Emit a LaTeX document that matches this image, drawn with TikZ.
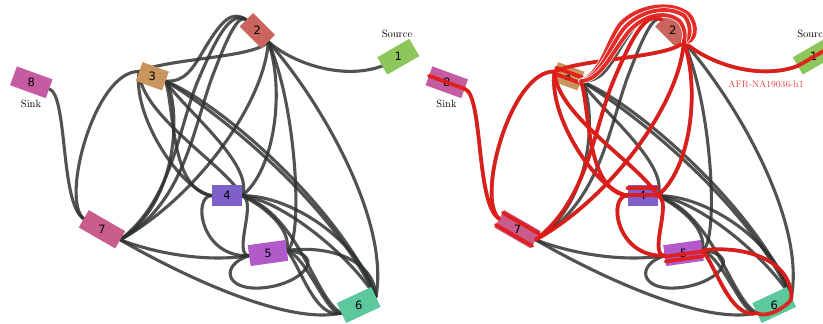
\documentclass[tikz,border=0pt]{standalone}
\usepackage{fontspec}
\newfontfamily\numfont{DejaVu Sans}
\usetikzlibrary{calc}
\pgfdeclarelayer{edges}
\pgfdeclarelayer{paths}
\pgfsetlayers{edges,main,paths}

\definecolor{edgegray}{HTML}{2E322E}
\definecolor{hapred}{HTML}{E21C18}
\definecolor{labred}{HTML}{E53E3E}
\definecolor{nc1}{HTML}{8DC65B}
\definecolor{nc2}{HTML}{C9655E}
\definecolor{nc3}{HTML}{C9955C}
\definecolor{nc4}{HTML}{7F5FCA}
\definecolor{nc5}{HTML}{B05BC9}
\definecolor{nc6}{HTML}{5CC99C}
\definecolor{nc7}{HTML}{C95C8B}
\definecolor{nc8}{HTML}{C55BA0}

\tikzset{
  seg/.style={rectangle, inner sep=0pt, outer sep=0pt, draw=none},
  num/.style={font=\numfont\fontsize{11.5}{12}\selectfont, inner sep=0pt},
  tag/.style={font=\fontsize{10.5}{12}\selectfont, inner sep=0pt},
  haplabel/.style={font=\fontsize{9.3}{11}\selectfont, text=labred, inner sep=0pt},
  gedge/.style={draw=edgegray, line width=3.1pt, opacity=.84, line cap=round},
  rpath/.style={draw=hapred, line width=3.8pt, opacity=.93, line cap=round},
  wgap/.style={draw=white, line width=5.2pt, line cap=round},
}

% one drawing of the variation graph: segments, their numbers, and the links
\newcommand\hgraph{%
  \node[seg, fill=nc1, minimum width=37pt, minimum height=20pt, rotate=30]  (n1) at (398.3,56.7) {};
  \node[seg, fill=nc2, minimum width=31pt, minimum height=19pt, rotate=-45] (n2) at (257.3,30.7) {};
  \node[seg, fill=nc3, minimum width=28pt, minimum height=20pt, rotate=-20] (n3) at (152.3,76.3) {};
  \node[seg, fill=nc4, minimum width=30pt, minimum height=21pt]             (n4) at (227,195.7) {};
  \node[seg, fill=nc5, minimum width=38pt, minimum height=21pt, rotate=8]   (n5) at (268,253) {};
  \node[seg, fill=nc6, minimum width=38pt, minimum height=22pt, rotate=25]  (n6) at (358.7,305) {};
  \node[seg, fill=nc7, minimum width=42pt, minimum height=20pt, rotate=-30] (n7) at (102,229.3) {};
  \node[seg, fill=nc8, minimum width=38pt, minimum height=20pt, rotate=-20] (n8) at (31.3,82.3) {};
  \foreach \k in {1,...,8}{\node[num] (l\k) at (n\k.center) {\k};}
  \node[tag] (src) at (397,33.5) {Source};
  \node[tag] (snk) at (31,104) {Sink};
  \begin{pgfonlayer}{edges}
    \draw[gedge] (n8.east) .. controls (68,95) and (60,205) .. (n7.west);
    \draw[gedge] (n3.west) .. controls (95,70) and (60,200) .. (n7.west);
    \draw[gedge] (n2.east) .. controls (255,58) and (170,58) .. (n3.west);
    \draw[gedge] (n2.west) .. controls (232,10) and (222,20) .. (205,48)
                           .. controls (192,70) and (185,82) .. (n3.east);
    \draw[gedge] (n2.east) .. controls (295,65) and (345,80) .. (n1.west);
    \draw[gedge] (n2.west) .. controls (232,12) and (220,28) .. (197,83)
                           .. controls (178,130) and (172,200) .. (n7.east);
    \draw[gedge] (n2.west) .. controls (238,14) and (228,35) .. (211,80)
                           .. controls (192,135) and (182,205) .. (n7.east);
    \draw[gedge] (n3.east) .. controls (180,100) and (182,200) .. (n7.east);
    \draw[gedge] (n2.east) .. controls (265,100) and (200,195) .. (n7.east);
    \draw[gedge] (n2.east) .. controls (285,90) and (275,170) .. (n4.east);
    \draw[gedge] (n2.east) .. controls (298,110) and (303,245) .. (n5.east);
    \draw[gedge] (n2.east) .. controls (320,100) and (390,220) .. (n6.east);
    \draw[gedge] (n3.west) .. controls (132,115) and (180,190) .. (n4.west);
    \draw[gedge] (n3.east) .. controls (175,110) and (170,190) .. (n4.west);
    \draw[gedge] (n3.east) .. controls (185,110) and (255,165) .. (n4.east);
    \draw[gedge] (n3.east) .. controls (215,110) and (330,200) .. (n6.east);
    \draw[gedge] (n3.east) .. controls (225,105) and (345,215) .. (n6.east);
    \draw[gedge] (n3.west) .. controls (140,115) and (225,165) .. (n4.east);
    \draw[gedge] (n4.west) .. controls (192,195) and (200,258) .. (n5.west);
    \draw[gedge] (n4.east) .. controls (258,200) and (232,255) .. (n5.west);
    \draw[gedge] (n4.east) .. controls (290,195) and (360,240) .. (n6.east);
    \draw[gedge] (n4.east) .. controls (280,200) and (345,250) .. (n6.east);
    \draw[gedge] (n4.east) .. controls (300,215) and (315,300) .. (n6.west);
    \draw[gedge] (n4.east) .. controls (262,205) and (292,228) .. (n5.east);
    \draw[gedge] (n7.east) .. controls (160,255) and (210,262) .. (n5.west);
    \draw[gedge] (n5.west) .. controls (220,265) and (225,290) .. (260,288)
                           .. controls (300,286) and (330,255) .. (n5.east);
    \draw[gedge] (n5.east) .. controls (330,245) and (375,260) .. (n6.east);
    \draw[gedge] (n5.east) .. controls (300,265) and (315,320) .. (n6.west);
    \draw[gedge] (n5.east) .. controls (308,258) and (328,318) .. (n6.west);
    \draw[gedge] (n7.east) .. controls (190,280) and (290,325) .. (n6.west);
  \end{pgfonlayer}%
}

\begin{document}
\begin{tikzpicture}[x=1pt,y=-1pt]
\useasboundingbox (0,0) rectangle (823,324);
\hgraph
\begin{scope}[xshift=415.5pt, name prefix=R-]
  \hgraph
  \begin{pgfonlayer}{paths}
    % haplotype walk drawn over the graph
    \draw[rpath] (n1.west) -- ($(n1.west)!1.8!(n1.east)$);
    \draw[rpath] (n2.east) .. controls (295,65) and (345,80) .. (n1.west);
    \draw[rpath] (n2.east) .. controls (255,58) and (170,58) .. (n3.west);
    \draw[rpath] ($(n3.north west)!.3!(n3.south west)$) -- ($(n3.north east)!.3!(n3.south east)$);
    \draw[rpath] ($(n3.north west)!.6!(n3.south west)$) -- ($(n3.north east)!.6!(n3.south east)$);
    % three passes wrapping over segment 2
    \draw[wgap] (n3.east) .. controls (187,72) and (190,45) .. (204,25)
                .. controls (220,6) and (255,0) .. (273,14)
                .. controls (284,26) and (280,44) .. (n2.east);
    \draw[rpath] (n3.east) .. controls (187,72) and (190,45) .. (204,25)
                .. controls (220,6) and (255,0) .. (273,14)
                .. controls (284,26) and (280,44) .. (n2.east);
    \draw[wgap] (n3.east) .. controls (186,76) and (192,50) .. (208,29)
                .. controls (223,11) and (252,4) .. (269,16)
                .. controls (277,26) and (275,40) .. (n2.east);
    \draw[rpath] (n3.east) .. controls (186,76) and (192,50) .. (208,29)
                .. controls (223,11) and (252,4) .. (269,16)
                .. controls (277,26) and (275,40) .. (n2.east);
    \draw[wgap] (n3.east) .. controls (185,80) and (195,55) .. (212,33)
                .. controls (226,16) and (249,9) .. (264,21)
                .. controls (270,28) and (270,38) .. (n2.east);
    \draw[rpath] (n3.east) .. controls (185,80) and (195,55) .. (212,33)
                .. controls (226,16) and (249,9) .. (264,21)
                .. controls (270,28) and (270,38) .. (n2.east);
    \draw[rpath] (n2.west) .. controls (232,12) and (220,28) .. (197,83)
                           .. controls (178,130) and (172,200) .. (n7.east);
    \draw[rpath] (n2.east) .. controls (265,100) and (200,195) .. (n7.east);
    \draw[rpath] (n2.east) .. controls (285,90) and (275,170) .. (n4.east);
    \draw[rpath] (n3.west) .. controls (95,70) and (60,200) .. (n7.west);
    \draw[rpath] (n8.east) .. controls (68,95) and (60,205) .. (n7.west);
    \draw[rpath] (n8.west) -- (n8.east);
    \draw[rpath] ($(n7.north west)!.15!(n7.south west)$) -- ($(n7.north east)!.15!(n7.south east)$);
    \draw[rpath] ($(n7.north west)!.85!(n7.south west)$) -- ($(n7.north east)!.85!(n7.south east)$);
    \draw[rpath] (n3.west) .. controls (132,115) and (180,190) .. (n4.west);
    \draw[rpath] (n3.east) .. controls (175,110) and (170,190) .. (n4.west);
    \draw[rpath] (n3.west) .. controls (140,115) and (225,165) .. (n4.east);
    \draw[rpath] ($(n4.north west)!.15!(n4.south west)$) -- ($(n4.north east)!.15!(n4.south east)$);
    \draw[rpath] ($(n4.north west)!.45!(n4.south west)$) -- ($(n4.north east)!.45!(n4.south east)$);
    \draw[rpath] (n4.west) .. controls (192,195) and (200,258) .. (n5.west);
    \draw[rpath] (n4.east) .. controls (258,200) and (232,255) .. (n5.west);
    \draw[rpath] ($(n5.north west)!.55!(n5.south west)$) -- ($(n5.north east)!.55!(n5.south east)$);
    \draw[rpath] ($(n5.north west)!.78!(n5.south west)$) -- ($(n5.north east)!.78!(n5.south east)$);
    \draw[rpath] (n5.east) .. controls (330,245) and (375,260) .. (n6.east);
    \draw[rpath] (n5.east) .. controls (300,265) and (315,320) .. (n6.west);
    \draw[rpath] (n6.west) .. controls ($(n6.south west)!.2!(n6.south east)$) and ($(n6.south east)!.5!(n6.east)$) .. (n6.east);
  \end{pgfonlayer}
\end{scope}
\node[haplabel] (hap) at (766,84) {AFR-NA19036-h1};
\end{tikzpicture}
\end{document}
